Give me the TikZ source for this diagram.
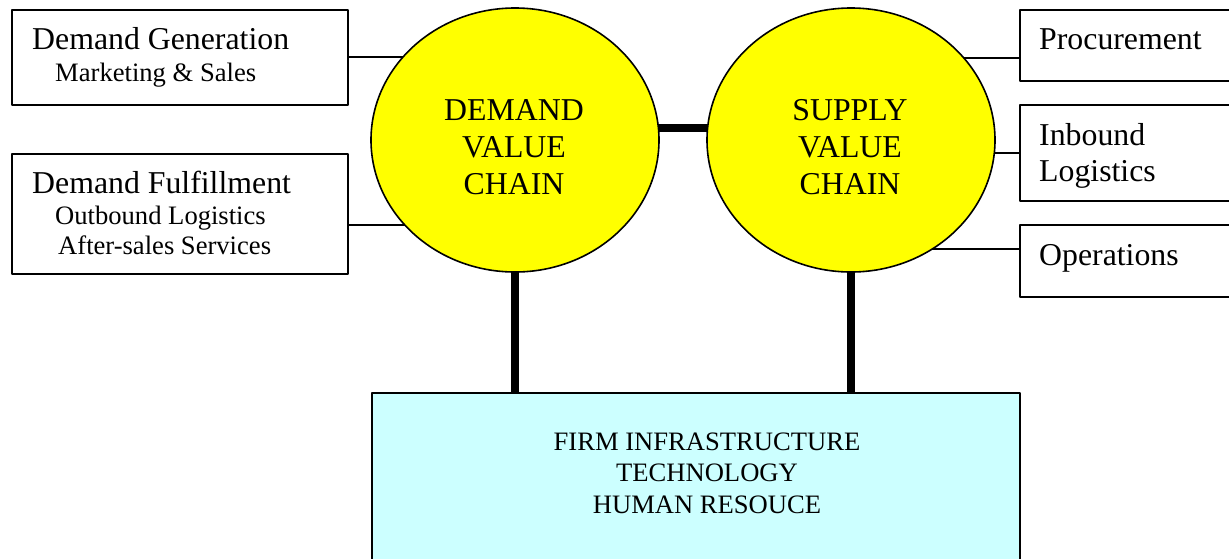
\documentclass[tikz,border=0pt]{standalone}
\usepackage{fontspec}
\setmainfont{Liberation Serif}
\usetikzlibrary{shapes.geometric,backgrounds}

\definecolor{chainyellow}{RGB}{255,255,0}
\definecolor{infracyan}{RGB}{204,255,255}

\tikzset{
	box/.style={draw,line width=1.7pt,inner sep=0pt,anchor=north west},
	chain/.style={draw,ellipse,fill=chainyellow,line width=1.6pt,inner sep=0pt,minimum width=288pt,minimum height=264pt},
	link/.style={line width=2pt},
	bar/.style={line width=8pt},
	bigtxt/.style={font=\fontsize{31.8}{36}\selectfont,inner sep=0pt},
	smalltxt/.style={font=\fontsize{26.6}{30}\selectfont,inner sep=0pt},
}

\begin{document}
\begin{tikzpicture}[x=1pt,y=-1pt,line join=round]
	
	\useasboundingbox (0,0) rectangle (1229,558);
	\clip (0,0) rectangle (1229,558);
	
	% boxes on the left and right
	\node[box,minimum width=336pt,minimum height=95pt] (dg) at (11,9) {};
	\node[box,minimum width=336pt,minimum height=120pt] (df) at (11,153) {};
	\node[box,minimum width=260pt,minimum height=71pt] (proc) at (1019,9) {};
	\node[box,minimum width=260pt,minimum height=96pt] (inb) at (1019,104) {};
	\node[box,minimum width=260pt,minimum height=72pt] (op) at (1019,224) {};
	\node[box,fill=infracyan,minimum width=648pt,minimum height=200pt] (infra) at (371,392) {};
	
	% the two value chains
	\node[chain] (dvc) at (515,140) {};
	\node[chain] (svc) at (851,140) {};
	
	% links go under the ellipses
	\begin{scope}[on background layer]
		\coordinate (dgc) at (dg.east);
		\coordinate (dfc) at ([yshift=-11pt]df.east);
		\coordinate (pc) at ([yshift=-12.5pt]proc.west);
		\coordinate (ic) at (inb.west);
		\coordinate (oc) at ([yshift=12pt]op.west);
		\draw[link] (dgc) -- (dgc -| dvc.center);
		\draw[link] (dfc) -- (dfc -| dvc.center);
		\draw[link] (pc) -- (pc -| svc.center);
		\draw[link] (ic) -- (ic -| svc.center);
		\draw[link] (oc) -- (oc -| svc.center);
		\draw[bar] ([yshift=12pt]dvc.center) -- ([yshift=12pt]svc.center);
		\draw[bar] (dvc.center) -- (dvc.center |- infra.north);
		\draw[bar] (svc.center) -- (svc.center |- infra.north);
	\end{scope}
	
	% texts
	\node[bigtxt,anchor=base west] (dgt) at (32,49) {Demand Generation};
	\node[smalltxt,anchor=base west] (dgs) at (55,81) {Marketing \& Sales};
	\node[bigtxt,anchor=base west] (dft) at (32,193) {Demand Fulfillment};
	\node[smalltxt,anchor=base west] (dfs1) at (55,224) {Outbound Logistics};
	\node[smalltxt,anchor=base west] (dfs2) at (58,254) {After-sales Services};
	\node[bigtxt,anchor=base west] (proct) at (1039,49) {Procurement};
	\node[bigtxt,anchor=base west] (inbt1) at (1039,145) {Inbound};
	\node[bigtxt,anchor=base west] (inbt2) at (1039,181) {Logistics};
	\node[bigtxt,anchor=base west] (opt) at (1039,265) {Operations};
	
	\foreach \w [count=\i] in {DEMAND,VALUE,CHAIN}
		\node[bigtxt,anchor=base] (dvt\i) at (514,83+37*\i) {\w};
	\foreach \w [count=\i] in {SUPPLY,VALUE,CHAIN}
		\node[bigtxt,anchor=base] (svt\i) at (850,83+37*\i) {\w};
	\foreach \w [count=\i] in {FIRM INFRASTRUCTURE,TECHNOLOGY,HUMAN RESOUCE}
		\node[smalltxt,anchor=base] (inft\i) at (707,418.5+31.5*\i) {\w};
	
\end{tikzpicture}
\end{document}
